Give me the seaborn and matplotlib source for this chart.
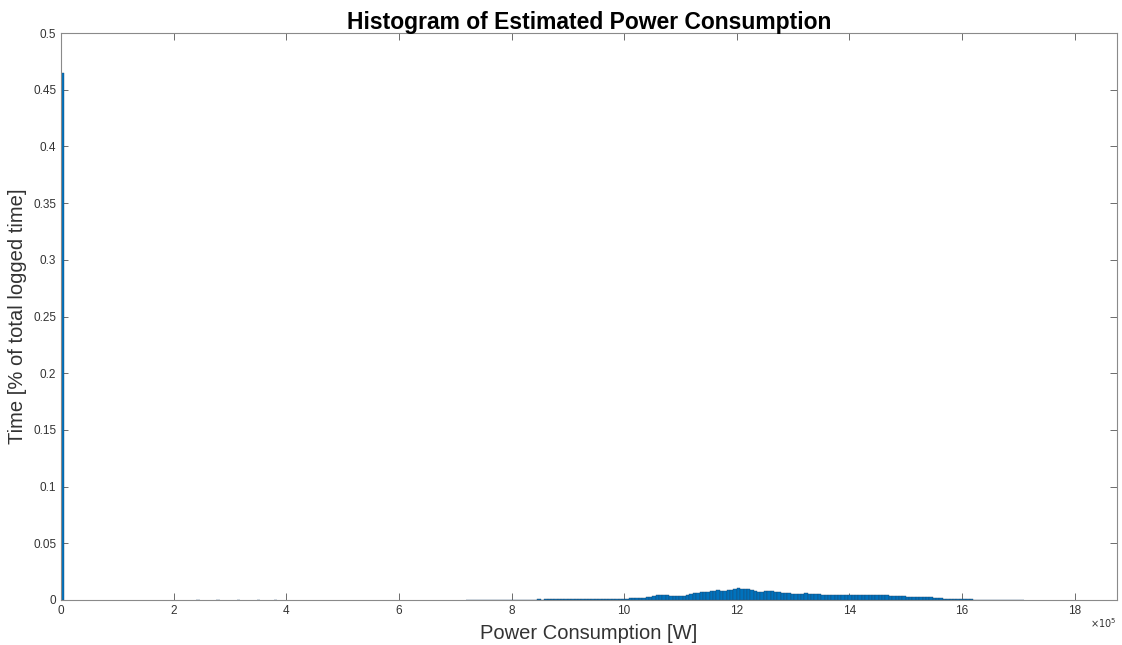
import numpy as np
import pandas as pd
import matplotlib
matplotlib.use("Agg")
import matplotlib.pyplot as plt
from matplotlib.ticker import FuncFormatter
import seaborn as sns

# ------------------------------------------------------------
# Data (bin width 6000 W)
# ------------------------------------------------------------
bin_width = 6000
n_bins = 313

# idle spike in the first bin
spike_height = 0.465

# a few nearly empty bins in the 2-4 x10^5 W range
sparse_bins = [40, 46, 52, 58, 63]
sparse_heights = [0.0001, 0.0001, 0.0001, 0.0001, 0.0001]

# main operating hump, first bin index 120 (7.2 x10^5 W)
hump_start = 120
hump_heights = [
    0.0001, 0.0001, 0.0002, 0.0002, 0.0002, 0.0002, 0.0002, 0.0003, 0.0002, 0.0003, 0.0003, 0.0003, 0.0003,
    0.0003, 0.0003, 0.0004, 0.0003, 0.0004, 0.0004, 0.0004, 0.0004, 0.0005, 0.0004, 0.0005, 0.0005, 0.0005,
    0.0005, 0.0005, 0.0006, 0.0005,
    0.0006, 0.0006, 0.0006, 0.0006, 0.0007, 0.0006, 0.0007, 0.0007, 0.0007, 0.0008, 0.0007, 0.0008, 0.0008,
    0.0009, 0.0009, 0.0010, 0.0011,
    0.0013, 0.0015, 0.0016, 0.0017, 0.0018, 0.0020, 0.0022, 0.0025,
    0.0035, 0.0042,
    0.0042, 0.0041, 0.0040, 0.0039, 0.0038, 0.0037,
    0.0036, 0.0038, 0.0042, 0.0050, 0.0058,
    0.0062, 0.0066, 0.0070, 0.0073, 0.0078,
    0.0082, 0.0084, 0.0083, 0.0082, 0.0084,
    0.0090, 0.0097, 0.0103, 0.0101,
    0.0098, 0.0097, 0.0088,
    0.0075, 0.0070, 0.0072,
    0.0077, 0.0079, 0.0078, 0.0074,
    0.0069, 0.0065, 0.0062, 0.0058, 0.0052,
    0.0050, 0.0049, 0.0052,
    0.0059, 0.0057, 0.0054, 0.0053, 0.0052,
    0.0047, 0.0043, 0.0041, 0.0041, 0.0040, 0.0041, 0.0041, 0.0043,
    0.0044, 0.0045, 0.0044, 0.0043, 0.0042, 0.0042, 0.0043,
    0.0045, 0.0046, 0.0046, 0.0044, 0.0040,
    0.0035, 0.0033, 0.0032, 0.0031, 0.0031, 0.0030, 0.0030, 0.0029, 0.0028, 0.0027, 0.0026, 0.0024,
    0.0022, 0.0020, 0.0017,
    0.0014, 0.0012, 0.0011, 0.0010, 0.0009, 0.0008, 0.0007,
    0.0006, 0.0005, 0.0005, 0.0004, 0.0004, 0.0003, 0.0003, 0.0003, 0.0002, 0.0002, 0.0002, 0.0002,
    0.0001, 0.0001, 0.0001, 0.0001, 0.0001, 0.0001,
]

x_tick_values = [0, 2, 4, 6, 8, 10, 12, 14, 16, 18]  # x10^5 W
y_tick_values = [0, 0.05, 0.1, 0.15, 0.2, 0.25, 0.3, 0.35, 0.4, 0.45, 0.5]

# build per-bin table
centers = np.arange(n_bins) * bin_width + bin_width / 2
heights = np.zeros(n_bins)
heights[0] = spike_height
heights[sparse_bins] = sparse_heights
heights[hump_start:hump_start + len(hump_heights)] = hump_heights
df = pd.DataFrame({"power": centers, "time": heights})

# ------------------------------------------------------------
# Plot
# ------------------------------------------------------------
sns.set_theme(style="ticks")
plt.rcParams["font.family"] = ["Liberation Sans", "DejaVu Sans"]

fig = plt.figure(figsize=(11.22, 6.45), dpi=100)
ax = fig.add_axes([0.0544, 0.0698, 0.941, 0.879])

sns.histplot(data=df, x="power", weights="time", binwidth=bin_width,
             binrange=(0, n_bins * bin_width), ax=ax,
             color="#0072BD", alpha=1.0, edgecolor="#1d4a70", linewidth=0.3)

# drop empty bars so they don't draw over the baseline
for p in list(ax.patches):
    if p.get_height() <= 0:
        p.remove()

ax.set_xlim(0, 1.875e6)
ax.set_ylim(0, 0.5)
ax.set_xticks([v * 1e5 for v in x_tick_values])
ax.xaxis.set_major_formatter(FuncFormatter(lambda v, _: f"{v / 1e5:g}"))
ax.set_yticks(y_tick_values)
ax.yaxis.set_major_formatter(FuncFormatter(lambda v, _: f"{v:g}"))

ax.tick_params(direction="in", length=5, width=0.6, color="#555555",
               labelsize=8.5, labelcolor="#333333", top=True, right=True)
for s in ax.spines.values():
    s.set_visible(True)
    s.set_color("#8a8a8a")
    s.set_linewidth(0.8)

ax.set_title("Histogram of Estimated Power Consumption", fontsize=16.5,
             fontweight="bold", color="black", pad=3)
ax.set_xlabel("Power Consumption [W]", fontsize=14.5, color="#333333", labelpad=5)
ax.set_ylabel("Time [% of total logged time]", fontsize=14.5, color="#333333", labelpad=4)
ax.text(1.0, -0.028, r"$\times 10^5$", transform=ax.transAxes, ha="right",
        va="top", fontsize=7, color="#333333")

fig.savefig("out.png", dpi=100)
